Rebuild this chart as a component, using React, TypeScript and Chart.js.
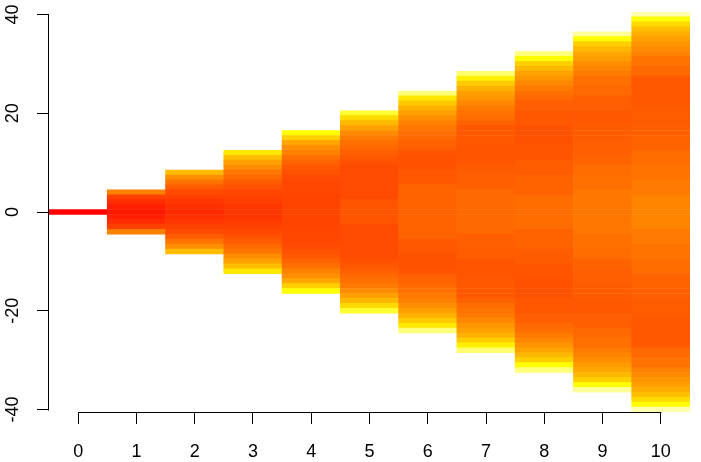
import React, { useEffect, useRef } from "react";
import { Chart, registerables } from "chart.js";

Chart.register(...registerables);

// Steps (x categories)
const steps = ["0", "1", "2", "3", "4", "5", "6", "7", "8", "9", "10"];
// Y tick values
const yTicks = [-40, -20, 0, 20, 40];

// Heat level (0 = red, 75 = yellow, 100 = white) of each cell, from the centre (y = 0)
// out to the edge (|y| = 4n); the columns are symmetric about y = 0.
const heat0 = [0];
const heat1 = [7, 9, 13, 19, 38];
const heat2 = [12, 14, 16, 19, 22, 27, 34, 42, 55];
const heat3 = [16, 16, 18, 19, 21, 24, 27, 31, 35, 41, 47, 56, 68];
const heat4 = [20, 20, 20, 20, 21, 21, 21, 22, 24, 26, 29, 33, 38, 42, 49, 61, 75];
const heat5 = [25, 25, 25, 22, 22, 22, 22, 22, 22, 22, 24, 26, 28, 31, 33, 36, 41, 47, 54, 64, 80];
const heat6 = [29, 29, 29, 29, 29, 29, 26, 26, 26, 24, 24, 24, 25, 28, 29, 31, 33, 35, 38, 42, 47, 52, 59, 68, 87];
const heat7 = [31, 31, 31, 31, 31, 28, 28, 28, 27, 27, 25, 25, 25, 25, 26, 26, 26, 26, 29, 32, 34, 36, 40, 44, 47, 52, 60, 71, 86];
const heat8 = [32, 32, 32, 32, 29, 29, 29, 29, 27, 27, 27, 25, 25, 25, 24, 24, 24, 24, 26, 26, 26, 28, 28, 31, 33, 36, 40, 44, 48, 54, 61, 75, 87];
const heat9 = [35, 35, 35, 35, 35, 33, 33, 33, 32, 32, 29, 29, 28, 28, 28, 27, 27, 27, 26, 26, 26, 28, 28, 28, 31, 31, 33, 33, 36, 39, 42, 46, 49, 54, 61, 75, 90];
const heat10 = [39, 39, 39, 39, 36, 36, 36, 34, 34, 34, 32, 32, 32, 29, 29, 29, 28, 28, 27, 27, 27, 27, 26, 26, 26, 26, 26, 26, 31, 31, 34, 34, 38, 41, 44, 47, 51, 56, 64, 75, 92];

const heatColumns = [heat0, heat1, heat2, heat3, heat4, heat5, heat6, heat7, heat8, heat9, heat10];

function heatColor(z: number): string {
  if (z <= 75) {
    const g = Math.round((z / 75) * 255);
    return `rgb(255,${g},0)`;
  }
  const b = Math.round(((z - 75) / 25) * 255);
  return `rgb(255,255,${b})`;
}

const FONT = { family: "'Liberation Sans', Arial, Helvetica, sans-serif", size: 18 };

export default function App() {
  const ref = useRef<HTMLCanvasElement | null>(null);

  useEffect(() => {
    if (!ref.current) return;
    const maxHalf = heatColumns[heatColumns.length - 1].length - 1;
    const datasets: any[] = [];
    for (let y = -maxHalf; y <= maxHalf; y++) {
      const k = Math.abs(y);
      const data = heatColumns.map((col) => (k < col.length ? [y - 0.5, y + 0.5] : null));
      const colors = heatColumns.map((col) => (k < col.length ? heatColor(col[k]) : "rgba(0,0,0,0)"));
      datasets.push({
        label: `y=${y}`,
        data,
        backgroundColor: colors,
        borderWidth: 0,
        grouped: false,
        barPercentage: 1,
        categoryPercentage: 1,
      });
    }

    const axisLines = {
      id: "axisLines",
      afterDraw(chart: any) {
        const { ctx, chartArea, scales } = chart;
        const xs = scales.x;
        const ys = scales.y;
        ctx.save();
        ctx.strokeStyle = "#000";
        ctx.lineWidth = 1;
        ctx.beginPath();
        const by = Math.round(chartArea.bottom) + 0.5;
        ctx.moveTo(Math.round(xs.getPixelForValue(0)) + 0.5, by);
        ctx.lineTo(Math.round(xs.getPixelForValue(steps.length - 1)) + 0.5, by);
        const lx = Math.round(chartArea.left) - 0.5;
        ctx.moveTo(lx, Math.round(ys.getPixelForValue(yTicks[yTicks.length - 1])) + 0.5);
        ctx.lineTo(lx, Math.round(ys.getPixelForValue(yTicks[0])) + 0.5);
        ctx.stroke();
        ctx.restore();
      },
    };

    const chart = new Chart(ref.current, {
      type: "bar",
      data: { labels: steps, datasets },
      plugins: [axisLines],
      options: {
        responsive: false,
        animation: false,
        events: [],
        layout: { padding: { top: 12, right: 11, left: 0, bottom: 0 } },
        plugins: { legend: { display: false }, tooltip: { enabled: false } },
        scales: {
          x: {
            type: "category",
            offset: true,
            border: { display: false },
            grid: {
              display: true,
              drawOnChartArea: false,
              drawTicks: true,
              tickLength: 12,
              color: "#000",
              lineWidth: 1,
              offset: false,
            },
            ticks: { color: "#000", font: FONT, padding: 17, maxRotation: 0, autoSkip: false },
            afterFit: (s: any) => {
              s.height = 50;
              s.paddingLeft = 0;
              s.paddingRight = 0;
            },
          },
          y: {
            type: "linear",
            min: -40.5,
            max: 40.5,
            border: { display: false },
            grid: {
              display: true,
              drawOnChartArea: false,
              drawTicks: true,
              tickLength: 12,
              color: "#000",
              lineWidth: 1,
            },
            ticks: {
              color: "#000",
              font: FONT,
              stepSize: 20,
              includeBounds: false,
              minRotation: 90,
              maxRotation: 90,
              crossAlign: "center",
              padding: 11,
            },
            afterFit: (s: any) => {
              s.width = 49;
              s.paddingTop = 0;
              s.paddingBottom = 0;
            },
          },
        },
      },
    } as any);
    return () => chart.destroy();
  }, []);

  return (
    <div style={{ position: "fixed", left: 0, top: 0, width: 701, height: 462, background: "#fff" }}>
      <canvas ref={ref} width={701} height={462} style={{ display: "block", width: 701, height: 462 }} />
    </div>
  );
}
